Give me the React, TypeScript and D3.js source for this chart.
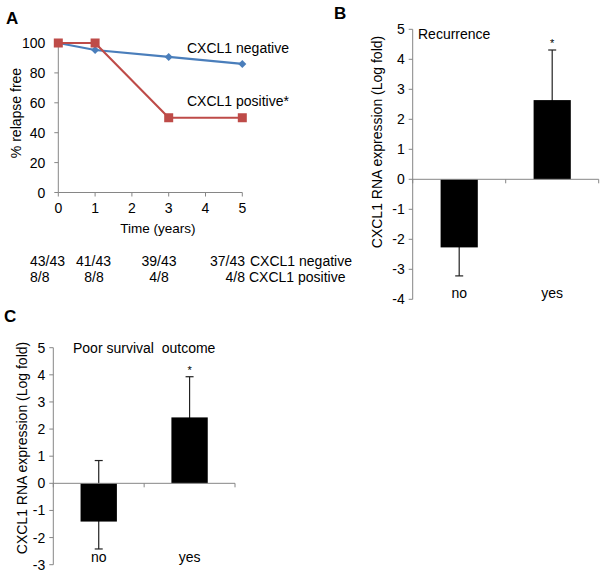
import React from "react";
import * as d3 from "d3";

const years = [0, 1, 3, 5];
const negativeValues = [100, 95.3, 90.7, 86.0];
const positiveValues = [100, 100, 50, 50];
const yTicksA = [0, 20, 40, 60, 80, 100];
const xTicksA = [0, 1, 2, 3, 4, 5];
const negCounts = ["43/43", "41/43", "39/43", "37/43"];
const posCounts = ["8/8", "8/8", "4/8", "4/8"];

const categories = ["no", "yes"];
const recurrenceValues = [-2.27, 2.64];
const recurrenceErrPlus = [0.95, 1.67];
const recurrenceErrMinus = [0.95, 1.67];
const survivalValues = [-1.41, 2.43];
const survivalErrPlus = [2.25, 1.5];
const survivalErrMinus = [1.01, 1.5];
const yTicksB = [-4, -3, -2, -1, 0, 1, 2, 3, 4, 5];
const yTicksC = [-3, -2, -1, 0, 1, 2, 3, 4, 5];

const FONT = "'Liberation Sans', Arial, sans-serif";
const AXIS = "#868686";
const BLUE = "#4a7ebb";
const RED = "#be4b48";

function BarPanel(props: {
  left: number; right: number; top: number; bottom: number;
  domain: [number, number]; ticks: number[]; values: number[]; errPlus: number[]; errMinus: number[];
  title: string; titleX: number; titleY: number; labelX: number; labelY: number; catLabelY: number;
  letter: string; letterX: number; letterY: number;
}) {
  const { left, right, top, bottom, domain, ticks, values, errPlus, errMinus } = props;
  const y = d3.scaleLinear().domain(domain).range([bottom, top]);
  const x = d3.scaleBand().domain(categories).range([left, right]).paddingInner(0).paddingOuter(0);
  const bw = x.bandwidth() * 0.4;
  const y0 = y(0);
  return (
    <g>
      <text x={props.letterX} y={props.letterY} fontSize={17} fontWeight="bold" fontFamily={FONT}>{props.letter}</text>
      {values.map((v, i) => {
        const cx = x(categories[i])! + x.bandwidth() / 2;
        const lo = y(v - errMinus[i]);
        const hi = y(v + errPlus[i]);
        return (
          <g key={i}>
            <line x1={cx} x2={cx} y1={lo} y2={hi} stroke="#222" strokeWidth={1.2} />
            <line x1={cx - 4} x2={cx + 4} y1={lo} y2={lo} stroke="#222" strokeWidth={1.2} />
            <line x1={cx - 4} x2={cx + 4} y1={hi} y2={hi} stroke="#222" strokeWidth={1.2} />
            <rect x={cx - bw / 2} width={bw} y={Math.min(y(v), y0)} height={Math.abs(y(v) - y0)} fill="#000" />
          </g>
        );
      })}
      <line x1={left} x2={left} y1={top} y2={bottom} stroke={AXIS} />
      {ticks.map((t) => (
        <g key={t}>
          <line x1={left - 4} x2={left} y1={y(t)} y2={y(t)} stroke={AXIS} />
          <text x={left - 8} y={y(t)} dy="0.36em" textAnchor="end" fontSize={14} fontFamily={FONT}>{t}</text>
        </g>
      ))}
      <line x1={left} x2={right} y1={y0} y2={y0} stroke={AXIS} />
      {[left, x("yes")!, right].map((b, i) => (
        <line key={i} x1={b} x2={b} y1={y0} y2={y0 + 4} stroke={AXIS} />
      ))}
      {categories.map((c) => (
        <text key={c} x={x(c)! + x.bandwidth() / 2} y={props.catLabelY} textAnchor="middle" fontSize={14} fontFamily={FONT}>{c}</text>
      ))}
      {values.map((v, i) =>
        v > 0 ? (
          <text key={i} x={x(categories[i])! + x.bandwidth() / 2} y={y(v + errPlus[i]) - 3} textAnchor="middle" fontSize={11} fontFamily={FONT}>*</text>
        ) : null
      )}
      <text x={props.titleX} y={props.titleY} fontSize={14} fontFamily={FONT} style={{ whiteSpace: "pre" }}>{props.title}</text>
      <text transform={`translate(${props.labelX},${props.labelY}) rotate(-90)`} textAnchor="middle" dy="0.36em" fontSize={14} fontFamily={FONT}>
        CXCL1 RNA expression (Log fold)
      </text>
    </g>
  );
}

export default function App() {
  const xA = d3.scaleLinear().domain([0, 5]).range([58.3, 242.3]);
  const yA = d3.scaleLinear().domain([0, 100]).range([192.5, 43]);
  const line = d3.line<number>().x((_, i) => xA(years[i])).y((d) => yA(d));
  const colX = [30, 76, 159, 245];
  const negAnchor = ["start", "start", "middle", "end"];
  const posX = [30, 94, 159, 245];
  const posAnchor = ["start", "middle", "middle", "end"];

  return (
    <svg width={600} height={573} style={{ position: "absolute", left: 0, top: 0, background: "#fff" }}>
      {/* Panel A */}
      <text x={6} y={24} fontSize={17} fontWeight="bold" fontFamily={FONT}>A</text>
      <line x1={xA(0)} x2={xA(0)} y1={yA(100)} y2={yA(0)} stroke={AXIS} />
      <line x1={xA(0)} x2={xA(5)} y1={yA(0)} y2={yA(0)} stroke={AXIS} />
      {yTicksA.map((t) => (
        <g key={t}>
          <line x1={xA(0) - 4} x2={xA(0)} y1={yA(t)} y2={yA(t)} stroke={AXIS} />
          <text x={xA(0) - 13} y={yA(t)} dy="0.36em" textAnchor="end" fontSize={14} fontFamily={FONT}>{t}</text>
        </g>
      ))}
      {xTicksA.map((t) => (
        <g key={t}>
          <line x1={xA(t)} x2={xA(t)} y1={yA(0)} y2={yA(0) + 4} stroke={AXIS} />
          <text x={xA(t)} y={213} textAnchor="middle" fontSize={14} fontFamily={FONT}>{t}</text>
        </g>
      ))}
      <text transform={`translate(16,113) rotate(-90)`} textAnchor="middle" dy="0.36em" fontSize={14} fontFamily={FONT}>% relapse free</text>
      <text x={158} y={233} textAnchor="middle" fontSize={13.5} fontFamily={FONT}>Time (years)</text>

      <path d={line(negativeValues) || ""} fill="none" stroke={BLUE} strokeWidth={2.2} />
      {negativeValues.map((v, i) => {
        const cx = xA(years[i]);
        const cy = yA(v);
        return <path key={i} d={`M${cx},${cy - 4}L${cx + 4},${cy}L${cx},${cy + 4}L${cx - 4},${cy}Z`} fill={BLUE} />;
      })}
      <path d={line(positiveValues) || ""} fill="none" stroke={RED} strokeWidth={2.2} />
      {positiveValues.map((v, i) => (
        <rect key={i} x={xA(years[i]) - 4.5} y={yA(v) - 4.5} width={9} height={9} fill={RED} />
      ))}
      <text x={187} y={53} fontSize={14} fontFamily={FONT}>CXCL1 negative</text>
      <text x={187} y={106} fontSize={14} fontFamily={FONT}>CXCL1 positive*</text>

      {negCounts.map((c, i) => (
        <text key={i} x={colX[i]} y={266} textAnchor={negAnchor[i] as any} fontSize={14} fontFamily={FONT}>{c}</text>
      ))}
      {posCounts.map((c, i) => (
        <text key={i} x={posX[i]} y={282} textAnchor={posAnchor[i] as any} fontSize={14} fontFamily={FONT}>{c}</text>
      ))}
      <text x={250} y={266} fontSize={14} fontFamily={FONT}>CXCL1 negative</text>
      <text x={249} y={282} fontSize={14} fontFamily={FONT}>CXCL1 positive</text>

      {/* Panel B */}
      <BarPanel
        left={412.7} right={598.7} top={29.3} bottom={299.3}
        domain={[-4, 5]} ticks={yTicksB} values={recurrenceValues} errPlus={recurrenceErrPlus} errMinus={recurrenceErrMinus}
        title="Recurrence" titleX={418} titleY={39} labelX={377} labelY={142} catLabelY={298}
        letter="B" letterX={334} letterY={19}
      />
      {/* Panel C */}
      <BarPanel
        left={53.3} right={235} top={347.7} bottom={564.7}
        domain={[-3, 5]} ticks={yTicksC} values={survivalValues} errPlus={survivalErrPlus} errMinus={survivalErrMinus}
        title={"Poor survival  outcome"} titleX={73} titleY={353} labelX={22} labelY={448} catLabelY={562}
        letter="C" letterX={4} letterY={322}
      />
    </svg>
  );
}
